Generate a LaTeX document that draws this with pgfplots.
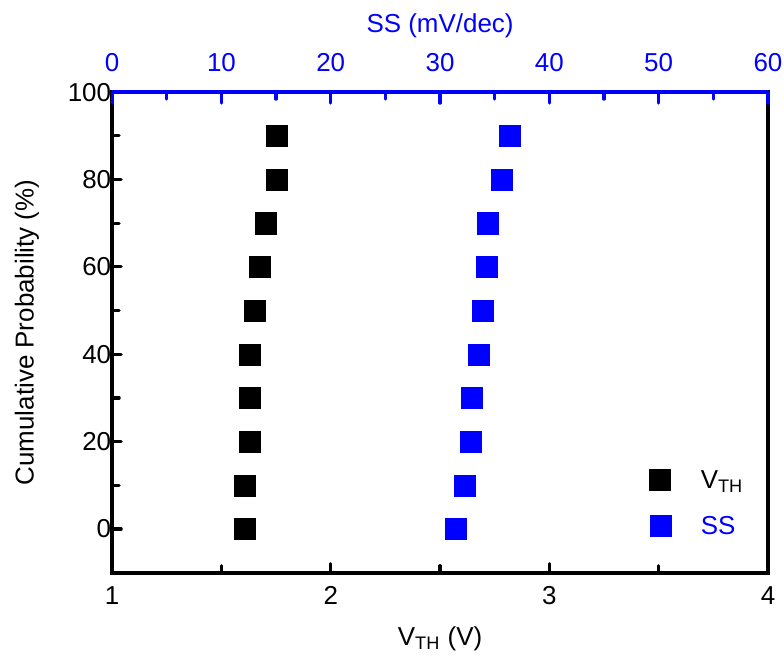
\documentclass[border=0pt]{standalone}
\usepackage{fontspec}
\setmainfont{Liberation Sans}
\usepackage{pgfplots}
\pgfplotsset{compat=1.18}
\definecolor{ssblue}{RGB}{0,0,255}

\pgfplotstableread{
vth  p
1.605 0
1.605 10
1.631 20
1.631 30
1.631 40
1.653 50
1.674 60
1.702 70
1.754 80
1.754 90
}\vthdata

\pgfplotstableread{
ss   p
31.39 0
32.22 10
32.79 20
32.86 30
33.50 40
33.87 50
34.29 60
34.37 70
35.68 80
36.34 90
}\ssdata

\begin{document}
\begin{tikzpicture}
\pgfplotsset{
  every axis/.append style={
    font=\fontsize{13}{15}\selectfont,
    width=327.5bp, height=240bp, scale only axis,
    ymin=-10, ymax=100,
    tick align=inside,
    major tick length=4.5bp, minor tick length=3.5bp,
    /pgf/number format/assume math mode=true,
  },
}
\begin{axis}[
  xmin=1, xmax=4,
  xtick={1,2,3,4}, minor x tick num=1,
  ytick={0,20,...,100}, minor y tick num=1,
  tick pos=left,
  axis line style={line width=2bp},
  every tick/.style={black, line width=1.6bp, line cap=round},
  xticklabel style={yshift=-3.5bp},
  yticklabel style={xshift=3bp},
  xlabel={V\textsubscript{TH} (V)},
  xlabel style={yshift=-4bp},
  ylabel={Cumulative Probability (\%)},
  ylabel style={yshift=7.5bp},
]
\addplot[only marks, mark=square*, mark size=5.25bp, mark options={draw=black, fill=black, line width=0.2bp}] table[x=vth, y=p] {\vthdata};
\coordinate (sw) at (rel axis cs:0,0);
\coordinate (ne) at (rel axis cs:1,1);
\end{axis}
\begin{axis}[
  xmin=0, xmax=60,
  axis x line*=top, axis y line=none,
  xtick={0,10,...,60}, minor x tick num=1,
  x axis line style={ssblue, line width=2bp},
  every tick/.style={ssblue, line width=1.6bp, line cap=round},
  major tick length=5.5bp, minor tick length=3.5bp,
  xticklabel style={text=ssblue, yshift=6.5bp},
  xlabel={SS (mV/dec)},
  xlabel style={text=ssblue, yshift=1bp},
  legend style={draw=none, fill=none, at={(0.81,0.23)}, anchor=north west,
    row sep=8.5bp, font=\fontsize{13}{15}\selectfont,
    /tikz/every odd column/.style={column sep=13bp}},
  legend cell align=left,
  legend image code/.code={\draw[#1, only marks] plot coordinates {(0bp,0.5bp)};},
]
\addlegendimage{only marks, mark=square*, mark size=5.25bp, mark options={draw=black, fill=black}}
\addlegendentry{V\textsubscript{TH}}
\addplot[only marks, mark=square*, mark size=5.25bp, mark options={draw=ssblue, fill=ssblue, line width=0.2bp}] table[x=ss, y=p] {\ssdata};
\addlegendentry{\textcolor{ssblue}{SS}}
\end{axis}
\pgfresetboundingbox
\path ([xshift=-56bp,yshift=-43bp]sw) rectangle ([xshift=8bp,yshift=46bp]ne);
\end{tikzpicture}
\end{document}
